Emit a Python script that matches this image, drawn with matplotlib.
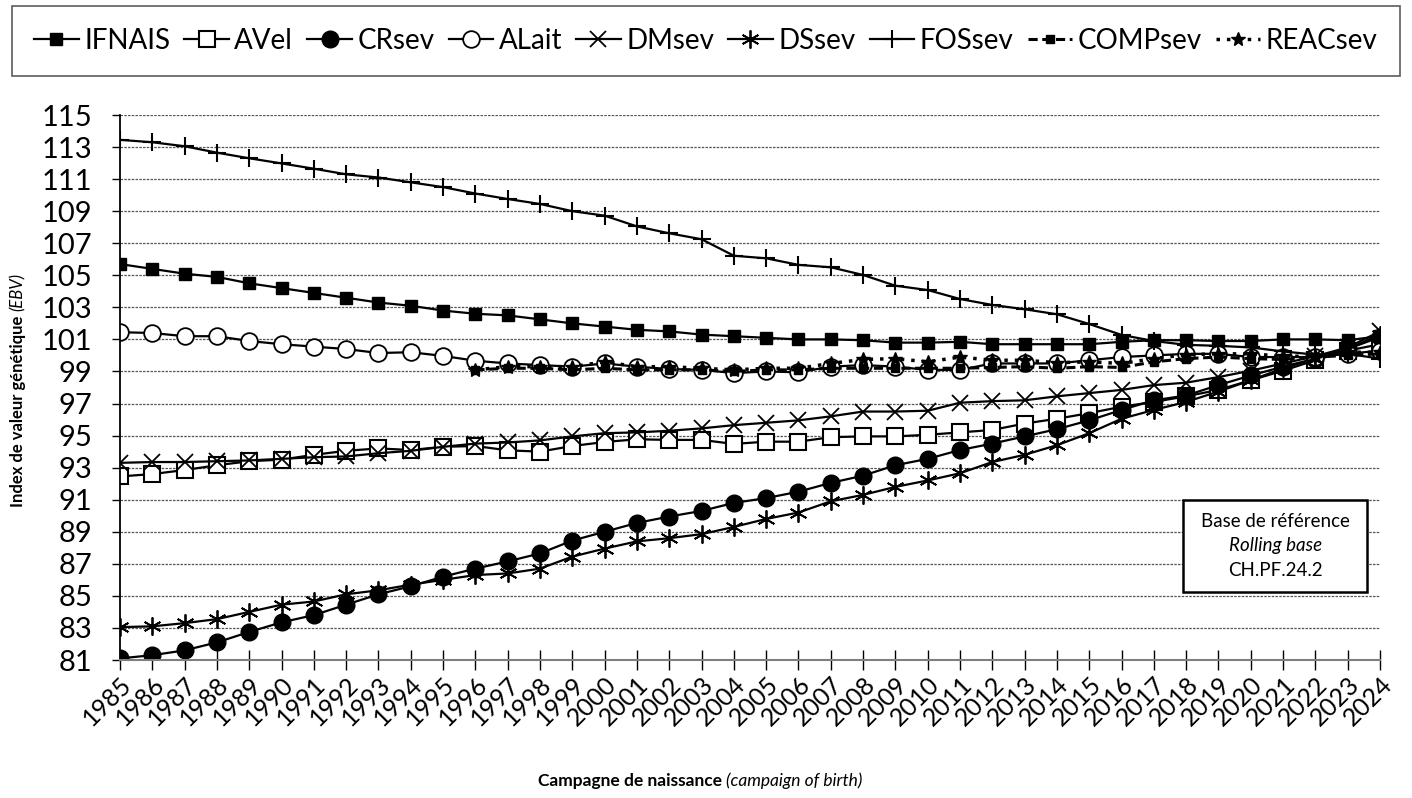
import matplotlib
matplotlib.use("Agg")
import matplotlib.pyplot as plt
from matplotlib.patches import Rectangle
from matplotlib.transforms import ScaledTranslation

plt.rcParams['font.family'] = ['Lato', 'DejaVu Sans']

years = list(range(1985, 2025))
years_sev = list(range(1996, 2025))

IFNAIS = [105.7, 105.4, 105.1, 104.9, 104.5, 104.2, 103.9, 103.6, 103.3, 103.1,
          102.8, 102.6, 102.5, 102.25, 102.0, 101.8, 101.6, 101.5, 101.3, 101.2,
          101.1, 101.0, 101.0, 100.95, 100.8, 100.8, 100.85, 100.7, 100.7, 100.7,
          100.7, 100.85, 100.95, 100.95, 100.9, 100.9, 101.0, 101.0, 100.95, 101.2]
AVel = [92.45, 92.6, 92.85, 93.15, 93.4, 93.5, 93.8, 94.05, 94.2, 94.1,
        94.3, 94.35, 94.08, 94.0, 94.35, 94.6, 94.77, 94.73, 94.73, 94.48,
        94.62, 94.62, 94.9, 94.95, 94.95, 95.05, 95.2, 95.35, 95.75, 96.05,
        96.4, 96.8, 97.1, 97.45, 97.85, 98.45, 99.05, 99.7, 100.3, 100.7]
CRsev = [81.1, 81.3, 81.6, 82.1, 82.75, 83.35, 83.8, 84.45, 85.1, 85.6,
         86.2, 86.7, 87.15, 87.65, 88.45, 89.0, 89.55, 89.95, 90.3, 90.8,
         91.1, 91.5, 92.05, 92.5, 93.15, 93.55, 94.1, 94.5, 94.95, 95.4,
         95.95, 96.6, 97.2, 97.5, 98.15, 98.75, 99.3, 99.8, 100.4, 101.15]
ALait = [101.45, 101.4, 101.2, 101.2, 100.9, 100.7, 100.55, 100.4, 100.15, 100.2,
         99.97, 99.67, 99.5, 99.4, 99.3, 99.5, 99.3, 99.15, 99.1, 98.9,
         99.0, 98.95, 99.3, 99.4, 99.3, 99.1, 99.1, 99.5, 99.5, 99.5,
         99.7, 99.9, 100.0, 100.1, 100.1, 99.9, 99.9, 99.9, 100.1, 100.3]
DMsev = [93.3, 93.35, 93.35, 93.4, 93.45, 93.55, 93.65, 93.7, 93.9, 94.05,
         94.3, 94.5, 94.57, 94.7, 94.95, 95.15, 95.2, 95.3, 95.45, 95.65,
         95.8, 95.95, 96.2, 96.5, 96.5, 96.55, 97.05, 97.15, 97.2, 97.45,
         97.65, 97.85, 98.15, 98.3, 98.65, 99.05, 99.5, 99.95, 100.5, 101.5]
DSsev = [83.05, 83.1, 83.3, 83.55, 84.0, 84.45, 84.65, 85.1, 85.35, 85.7,
         86.0, 86.3, 86.4, 86.7, 87.45, 87.95, 88.4, 88.6, 88.85, 89.3,
         89.8, 90.2, 90.9, 91.3, 91.8, 92.2, 92.65, 93.35, 93.8, 94.4,
         95.15, 96.05, 96.6, 97.1, 97.75, 98.45, 99.2, 99.8, 100.4, 101.3]
FOSsev = [113.45, 113.3, 113.05, 112.65, 112.3, 111.98, 111.65, 111.3, 111.1, 110.8,
          110.5, 110.1, 109.76, 109.45, 109.0, 108.72, 108.05, 107.62, 107.25, 106.22,
          106.06, 105.65, 105.5, 105.02, 104.35, 104.08, 103.52, 103.15, 102.88, 102.57,
          101.96, 101.28, 100.9, 100.66, 100.6, 100.5, 100.25, 100.05, 100.1, 99.8]
COMPsev = [99.1, 99.2, 99.2, 99.1, 99.2, 99.1, 99.1, 99.1, 99.0, 99.1,
           99.1, 99.2, 99.2, 99.2, 99.2, 99.2, 99.25, 99.3, 99.2, 99.3,
           99.25, 99.6, 99.8, 99.9, 99.8, 99.75, 99.9, 100.0, 100.1]
REACsev = [99.1, 99.3, 99.3, 99.3, 99.6, 99.3, 99.3, 99.2, 99.1, 99.2,
           99.2, 99.5, 99.75, 99.8, 99.6, 99.9, 99.7, 99.7, 99.55, 99.6,
           99.5, 99.8, 100.05, 100.1, 100.1, 99.95, 99.95, 100.2, 100.2]

fig = plt.figure(figsize=(14.12, 7.98), dpi=100)
ax = fig.add_axes([120 / 1412, 1 - 660 / 798, 1260 / 1412, 545 / 798])

lw = 1.6
k = dict(color='black', lw=lw, markeredgecolor='black')
h = []
h += ax.plot(years, IFNAIS, marker='s', ms=8, markerfacecolor='black', label='IFNAIS', **k)
h += ax.plot(years, AVel, marker='s', ms=11, markerfacecolor='white', mew=1.5, label='AVel', **k)
h += ax.plot(years, CRsev, marker='o', ms=12, markerfacecolor='black', label='CRsev', **k)
h += ax.plot(years, ALait, marker='o', ms=12, markerfacecolor='white', mew=1.3, label='ALait', **k)
h += ax.plot(years, DMsev, marker='x', ms=12, mew=1.3, label='DMsev', **k)
h += ax.plot(years, DSsev, marker=(6, 2, 0), ms=13, mew=1.3, label='DSsev', **k)
h += ax.plot(years, FOSsev, marker='+', ms=13, mew=1.5, label='FOSsev', **k)
h += ax.plot(years_sev, COMPsev, marker='s', ms=6, markerfacecolor='black',
             ls=(0, (3, 1.5)), label='COMPsev', color='black', lw=2.2, markeredgecolor='black')
h += ax.plot(years_sev, REACsev, marker='*', ms=10, markerfacecolor='black',
             ls=(0, (1, 2)), label='REACsev', color='black', lw=2.5, markeredgecolor='black')

ax.set_xlim(1985, 2024)
ax.set_ylim(81, 115)
ax.set_yticks(range(81, 116, 2))
ax.set_xticks(years)
ax.set_xticklabels([str(y) for y in years], rotation=45, ha='right',
                   rotation_mode='anchor', fontsize=18)
shift = ScaledTranslation(10 / 100, -2 / 100, fig.dpi_scale_trans)
for lab in ax.get_xticklabels():
    lab.set_transform(lab.get_transform() + shift)
ax.tick_params(axis='y', labelsize=21, direction='out', length=6, width=1, pad=14)
ax.tick_params(axis='x', direction='inout', length=14, width=1, pad=2)
ax.yaxis.grid(True, ls=(0, (2, 1)), color='#555555', lw=0.9)
ax.set_axisbelow(True)
for s in ['top', 'right']:
    ax.spines[s].set_visible(False)
ax.spines['left'].set_linewidth(1.3)
ax.spines['bottom'].set_color('#7f7f7f')
ax.spines['bottom'].set_linewidth(1.5)

# reference base box
ax.add_patch(Rectangle((0.844, 0.125), 0.146, 0.169, transform=ax.transAxes,
                       facecolor='white', edgecolor='black', lw=1.8, zorder=5))
bx = 0.844 + 0.146 / 2
ax.text(bx, 0.255, 'Base de référence', transform=ax.transAxes, ha='center', va='center', fontsize=13.5, zorder=6)
ax.text(bx, 0.21, 'Rolling base', transform=ax.transAxes, ha='center', va='center', fontsize=13.5, style='italic', zorder=6)
ax.text(bx, 0.165, 'CH.PF.24.2', transform=ax.transAxes, ha='center', va='center', fontsize=13.5, zorder=6)

leg = fig.legend(handles=h, loc='lower left', ncol=9, mode='expand',
                 bbox_to_anchor=(12 / 1412, 1 - 76 / 798, 1388 / 1412, 74 / 798),
                 fontsize=20, frameon=True, fancybox=False, handlelength=1.6,
                 handletextpad=0.2, columnspacing=0.3, borderpad=0.8, borderaxespad=0)
leg.get_frame().set_edgecolor('#333333')
leg.get_frame().set_linewidth(1.2)

# axis titles, two font styles each
fig.canvas.draw()
r = fig.canvas.get_renderer()
W, H = fig.bbox.width, fig.bbox.height

t1 = fig.text(0, 0, 'Index de valeur génétique ', rotation=90, fontsize=12, weight='bold',
              ha='center', va='bottom')
t2 = fig.text(0, 0, '(EBV)', rotation=90, fontsize=12, style='italic',
              ha='center', va='bottom')
h1 = t1.get_window_extent(r).height
h2 = t2.get_window_extent(r).height
t1.set_position((18 / W, (H - 390 - (h1 + h2) / 2) / H))
t2.set_position((18 / W, (H - 390 - (h1 + h2) / 2 + h1) / H))

x1 = fig.text(0, 0, 'Campagne de naissance ', fontsize=12.5, weight='bold', va='center')
x2 = fig.text(0, 0, '(campaign of birth)', fontsize=12.5, style='italic', va='center')
w1 = x1.get_window_extent(r).width
w2 = x2.get_window_extent(r).width
xs = 700 - (w1 + w2) / 2
x1.set_position((xs / W, 1 - 781 / H))
x2.set_position(((xs + w1) / W, 1 - 781 / H))

fig.savefig('out.png', dpi=100)
